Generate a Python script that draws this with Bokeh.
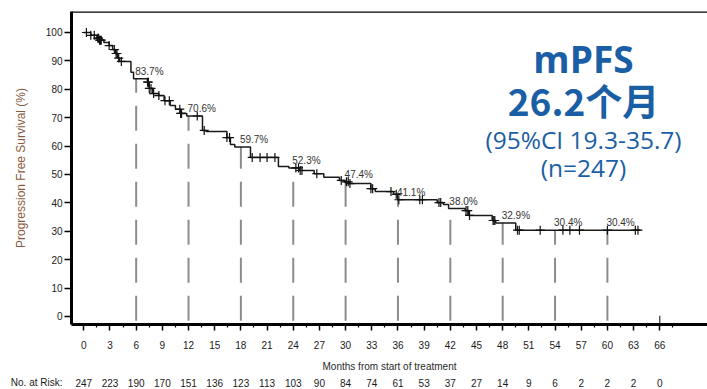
from bokeh.plotting import figure
from bokeh.layouts import column
from bokeh.models import Range1d, FixedTicker, Label, Span
from bokeh.core.properties import value
from bokeh.embed import file_html
from bokeh.resources import INLINE
import numpy as np

# Kaplan-Meier estimate: month of each drop and survival (%) after it
step_months = [0, 0.8, 1.5, 1.8, 2.3, 2.9, 3.3, 3.6, 3.9, 4.1, 5.4, 5.7,
               7.3, 7.5, 7.9, 8.6, 9.2, 9.9, 10.5, 11.1, 11.8, 13.6, 14.0,
               16.4, 16.8, 17.3, 19.1, 22.3, 23.5, 24.7, 26.4, 27.5, 29.3,
               29.9, 30.4, 32.9, 33.4, 35.5, 35.95, 40.5, 41.2, 41.8, 43.7,
               44.1, 46.8, 47.2, 49.5]
step_surv = [100, 99.0, 98.0, 97.3, 96.5, 95.4, 94.0, 92.6, 91.0, 89.8, 86.0, 83.7,
             82.5, 80.3, 78.5, 77.8, 76.0, 74.3, 73.0, 71.5, 70.6, 65.5, 65.1,
             63.0, 60.6, 59.7, 56.0, 52.8, 52.3, 51.4, 50.3, 49.0, 47.9,
             47.4, 46.8, 45.0, 44.0, 43.0, 41.1, 40.1, 39.4, 38.0, 37.3,
             35.6, 33.8, 32.9, 30.4]
last_followup = 63.8

# censored patients (months)
censor_months = [0.3, 0.8, 1.2, 1.6, 1.7, 1.8, 1.9, 2.0, 2.9, 3.5, 3.7, 3.8, 4.0,
                 4.3, 7.3, 7.4, 7.5, 7.7, 8.0, 8.6, 9.3, 9.8, 11.0, 11.1, 11.2,
                 13.0, 13.8, 16.4, 16.7, 19.3, 20.2, 21.0, 21.9, 24.3, 24.6,
                 24.8, 25.0, 26.7, 29.5, 30.1, 30.3, 30.5, 32.9, 33.1, 35.2,
                 35.8, 36.1, 38.5, 38.8, 40.7, 40.9, 43.8, 44.0, 44.2, 46.9,
                 47.0, 47.1, 49.7, 49.9, 52.3, 54.9, 55.7, 56.8, 60.0, 63.2, 63.5]

# landmark estimates every 6 months
landmark_months = [6, 12, 18, 24, 30, 36, 42, 48, 54, 60]
landmark_surv = [83.7, 70.6, 59.7, 52.3, 47.4, 41.1, 38.0, 32.9, 30.4, 30.4]

# number at risk
risk_months = list(range(0, 67, 3))
at_risk = [247, 223, 190, 170, 151, 136, 123, 113, 103, 90, 84, 74, 61, 53,
           37, 27, 14, 9, 6, 2, 2, 2, 0]

FONT = "Liberation Sans"
BLUE = "#1a5ea6"

x_lo, x_hi = -1.41, 71.47
y_lo, y_hi = -2.82, 107.39
LEFT = 71

p = figure(width=707, height=374, output_backend="svg", toolbar_location=None,
           x_range=Range1d(x_lo, x_hi), y_range=Range1d(y_lo, y_hi),
           min_border_left=LEFT, min_border_right=0, min_border_top=11,
           min_border_bottom=50)
p.outline_line_color = None
p.xgrid.grid_line_color = None
p.ygrid.grid_line_color = None

# axes
xa = p.xaxis[0]
xa.ticker = FixedTicker(ticks=risk_months,
                        minor_ticks=[m + 1.5 for m in range(-3, 69, 3)])
xa.axis_line_width = 3
xa.axis_line_color = "black"
xa.major_tick_in = 0
xa.major_tick_out = 6
xa.major_tick_line_width = 1.5
xa.minor_tick_in = 0
xa.minor_tick_out = 3
xa.minor_tick_line_width = 1.2
xa.major_label_text_font = FONT
xa.major_label_text_font_size = "10px"
xa.major_label_text_color = "#1a1a1a"
xa.major_label_standoff = 10
xa.axis_label = "Months from start of treatment"
xa.axis_label_text_font = FONT
xa.axis_label_text_font_size = "10px"
xa.axis_label_text_font_style = "normal"
xa.axis_label_text_color = "#2a2a2a"
xa.axis_label_standoff = 9

ya = p.yaxis[0]
ya.ticker = FixedTicker(ticks=list(range(0, 101, 10)), minor_ticks=[])
ya.axis_line_width = 3
ya.axis_line_color = "black"
ya.major_tick_in = 0
ya.major_tick_out = 7
ya.major_tick_line_width = 1.5
ya.major_label_text_font = FONT
ya.major_label_text_font_size = "10px"
ya.major_label_text_color = "#1a1a1a"
ya.major_label_standoff = 2
ya.axis_label = "Progression Free Survival (%)"
ya.axis_label_text_font = FONT
ya.axis_label_text_font_size = "12px"
ya.axis_label_text_font_style = "normal"
ya.axis_label_text_color = "#8a5a40"
ya.axis_label_standoff = 15

# top frame line
p.add_layout(Span(location=y_hi, dimension="width", line_color="black",
                  line_width=2.5))

# dashed landmark drop lines
p.segment(x0=landmark_months, y0=[-1.5] * len(landmark_months),
          x1=landmark_months, y1=landmark_surv,
          line_color="#8c8c8c", line_width=2, line_dash="25 13")

# final follow-up marker at 66 months
p.segment(x0=[66], y0=[y_lo], x1=[66], y1=[0.3], line_color="#333333",
          line_width=1.2)

# survival curve
curve_x = step_months + [last_followup]
curve_y = step_surv + [step_surv[-1]]
p.step(curve_x, curve_y, mode="after", line_color="#1a1a1a", line_width=1.5)

# censor marks placed on the curve
idx = np.searchsorted(np.array(step_months), np.array(censor_months), side="right") - 1
censor_y = [step_surv[i] for i in idx]
p.scatter(censor_months, censor_y, marker="cross", size=9, line_color="#111111",
          line_width=1.2)

# landmark labels
p.text(x=landmark_months, y=landmark_surv,
       text=[f"{s:.1f}%" for s in landmark_surv],
       text_font=value(FONT), text_font_size="10px", text_color="#333333",
       text_align="left", text_baseline="bottom", x_offset=-1, y_offset=-2)

# median PFS summary
summary = [("mPFS", "Open Sans", "37px", "bold", 90.8),
           ("26.2个月", "Noto Sans CJK SC", "37px", "bold", 76.1),
           ("(95%CI 19.3-35.7)", "Open Sans", "24.5px", "normal", 62.4),
           ("(n=247)", "Open Sans", "24.5px", "normal", 52.5)]
for txt, fnt, size, style, yy in summary:
    p.add_layout(Label(x=57.26, y=yy, text=txt, text_font=fnt,
                       text_font_size=size, text_font_style=style,
                       text_color=BLUE, text_align="center",
                       text_baseline="alphabetic"))

# number-at-risk row on the same month scale; its row title sits on a bare left axis
r = figure(width=707, height=15, output_backend="svg", toolbar_location=None,
           x_range=p.x_range, y_range=Range1d(0, 15),
           min_border_left=LEFT, min_border_right=0, min_border_top=0,
           min_border_bottom=0, x_axis_type=None)
r.outline_line_color = None
r.xgrid.grid_line_color = None
r.ygrid.grid_line_color = None
ry = r.yaxis[0]
ry.ticker = FixedTicker(ticks=[7], minor_ticks=[])
ry.major_label_overrides = {7: "No. at Risk:"}
ry.axis_line_color = None
ry.major_tick_line_color = None
ry.major_tick_in = 0
ry.major_tick_out = 0
ry.major_label_standoff = 9
ry.major_label_text_font = FONT
ry.major_label_text_font_size = "10px"
ry.major_label_text_color = "#1a1a1a"
r.text(x=risk_months, y=[7] * len(risk_months), text=[str(n) for n in at_risk],
       text_font=value(FONT), text_font_size="10px", text_color="#1a1a1a",
       text_align="center", text_baseline="middle")

layout = column(p, r, spacing=0)
open("out.html", "w").write(file_html(layout, INLINE))
